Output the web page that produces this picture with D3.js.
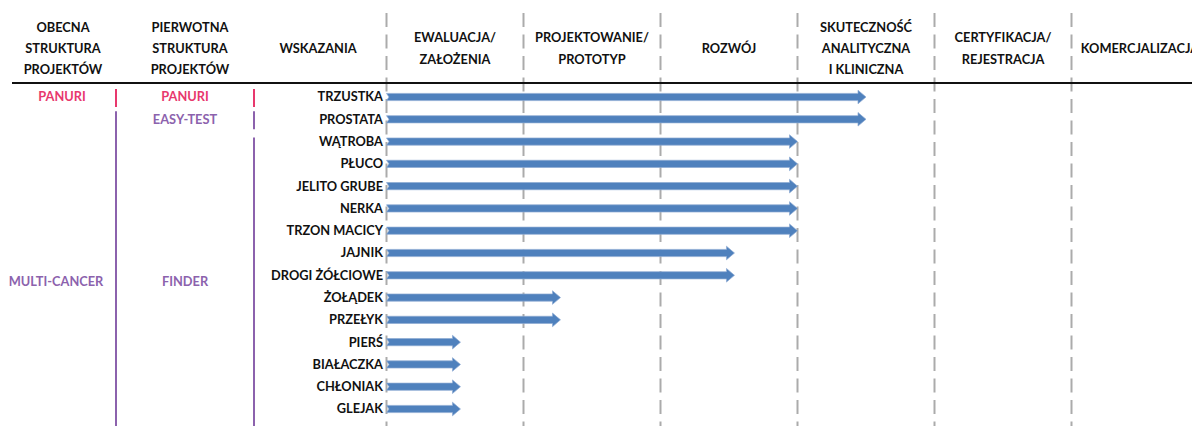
<!DOCTYPE html>
<html>
<head>
<meta charset="utf-8">
<script src="https://cdn.jsdelivr.net/npm/d3@7"></script>
<style>
  body { margin: 0; background: #fff; }
  svg { display: block; font-family: Lato, "Open Sans", sans-serif; font-weight: bold; }
</style>
</head>
<body>
<div id="main"></div>
<script>
// rows (indications) and how far each got, in stages (0 = start of evaluation)
var indications = ["TRZUSTKA", "PROSTATA", "WĄTROBA", "PŁUCO", "JELITO GRUBE", "NERKA",
  "TRZON MACICY", "JAJNIK", "DROGI ŻÓŁCIOWE", "ŻOŁĄDEK", "PRZEŁYK", "PIERŚ",
  "BIAŁACZKA", "CHŁONIAK", "GLEJAK"];
var progress = [3.5, 3.5, 3.0, 3.0, 3.0, 3.0, 3.0, 2.54, 2.54, 1.27, 1.27, 0.54, 0.54, 0.54, 0.54];

var stages = [
  ["EWALUACJA/", "ZAŁOŻENIA"],
  ["PROJEKTOWANIE/", "PROTOTYP"],
  ["ROZWÓJ"],
  ["SKUTECZNOŚĆ", "ANALITYCZNA", "I KLINICZNA"],
  ["CERTYFIKACJA/", "REJESTRACJA"],
  ["KOMERCJALIZACJA"]
];

// project structure columns: label + first/last row
var currentGroups = [
  {name: "PANURI", from: 0, to: 0, color: "#E8386D"},
  {name: "MULTI-CANCER", from: 1, to: 14, color: "#8C62AD"}
];
var originalGroups = [
  {name: "PANURI", from: 0, to: 0, color: "#E8386D"},
  {name: "EASY-TEST", from: 1, to: 1, color: "#8C62AD"},
  {name: "FINDER", from: 2, to: 14, color: "#8C62AD"}
];

var W = 1192, H = 426;

var svg = d3.select("#main")
  .append("svg")
    .attr("width", W)
    .attr("height", H);

var x = d3.scaleLinear()
  .domain([0, 6])
  .range([386.5, 1208.5]);

var y = d3.scalePoint()
  .domain(indications)
  .range([97, 409]);

// column headers
var headerCols = [
  {cx: 63, lines: ["OBECNA", "STRUKTURA", "PROJEKTÓW"]},
  {cx: 190, lines: ["PIERWOTNA", "STRUKTURA", "PROJEKTÓW"]},
  {cx: 318, lines: ["WSKAZANIA"]}
];
stages.forEach(function(s, i) {
  headerCols.push({cx: (x(i) + x(i + 1)) / 2, lines: s});
});

headerCols.forEach(function(h) {
  var n = h.lines.length;
  var lh = n === 3 ? 20.8 : 22;
  var top = 48.5 - (n - 1) * lh / 2;
  h.lines.forEach(function(t, j) {
    svg.append("text")
      .attr("x", h.cx)
      .attr("y", top + j * lh)
      .attr("dy", "0.35em")
      .attr("text-anchor", "middle")
      .style("font-size", "12.8px")
      .style("fill", "#111")
      .text(t);
  });
});

// dashed stage boundaries
svg.selectAll(".stage-line")
  .data(d3.range(6))
  .enter()
  .append("line")
    .attr("x1", function(d) { return x(d); })
    .attr("x2", function(d) { return x(d); })
    .attr("y1", 13)
    .attr("y2", H)
    .style("stroke", "#ABABAB")
    .style("stroke-width", 2)
    .style("stroke-dasharray", "14, 7.5");

// header rule
svg.append("line")
  .attr("x1", 12).attr("x2", W)
  .attr("y1", 83).attr("y2", 83)
  .style("stroke", "#111")
  .style("stroke-width", 2);

// group brackets + names
function drawGroups(groups, lineX) {
  groups.forEach(function(g, i) {
    var y0 = y(indications[g.from]) - 8;
    var y1 = g.to === indications.length - 1 ? H : y(indications[g.to]) + 10;
    if (i > 0 && groups[i - 1].name === "EASY-TEST") y0 = y(indications[g.from]) - 4;
    svg.append("line")
      .attr("x1", lineX).attr("x2", lineX)
      .attr("y1", y0).attr("y2", y1)
      .style("stroke", g.color)
      .style("stroke-width", 2);
    g.ly = g.from === g.to ? y(indications[g.from]) : (y0 + y1) / 2;
  });
}
drawGroups(originalGroups, 254);
drawGroups(currentGroups, 116);
// the multi-cancer name sits level with finder
currentGroups[1].ly = originalGroups[2].ly;

currentGroups.forEach(function(g) {
  svg.append("text")
    .attr("x", g.name === "PANURI" ? 62 : 56)
    .attr("y", g.ly)
    .attr("dy", "0.35em")
    .attr("text-anchor", "middle")
    .style("font-size", "12.8px")
    .style("fill", g.color)
    .text(g.name);
});
originalGroups.forEach(function(g) {
  svg.append("text")
    .attr("x", 185)
    .attr("y", g.ly)
    .attr("dy", "0.35em")
    .attr("text-anchor", "middle")
    .style("font-size", "12.8px")
    .style("fill", g.color)
    .text(g.name);
});

// indication labels
svg.selectAll(".ind")
  .data(indications)
  .enter()
  .append("text")
    .attr("x", 383)
    .attr("y", function(d) { return y(d); })
    .attr("dy", "0.35em")
    .attr("text-anchor", "end")
    .style("font-size", "12.8px")
    .style("fill", "#111")
    .text(function(d) { return d; });

// arrows
function arrowPath(x0, x1, yc) {
  var sh = 3.6, hh = 6.8, hl = 8;
  return "M" + x0 + "," + (yc - sh) +
    "L" + (x1 - hl) + "," + (yc - sh) +
    "L" + (x1 - hl) + "," + (yc - hh) +
    "L" + x1 + "," + yc +
    "L" + (x1 - hl) + "," + (yc + hh) +
    "L" + (x1 - hl) + "," + (yc + sh) +
    "L" + x0 + "," + (yc + sh) +
    "L" + (x0 + 2.5) + "," + yc + "Z";
}

svg.selectAll(".arrow")
  .data(indications)
  .enter()
  .append("path")
    .attr("class", "arrow")
    .attr("d", function(d, i) { return arrowPath(x(0), x(progress[i]), y(d)); })
    .attr("fill", "#4F81BD")
    .attr("stroke", "#8EABD3")
    .attr("stroke-width", 0.7);
</script>
</body>
</html>
